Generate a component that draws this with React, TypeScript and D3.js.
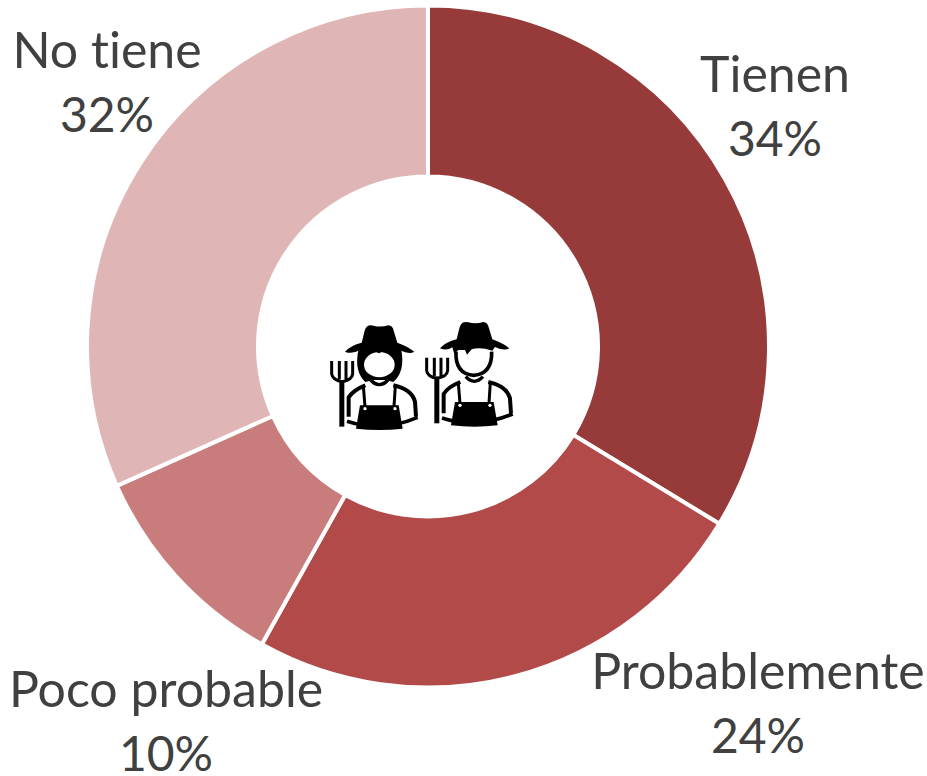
import React from 'react';
import * as d3 from 'd3';

const categories = ['Tienen', 'Probablemente', 'Poco probable', 'No tiene'];
const shares = [33.7, 24.4, 10.2, 31.7];
const colors = ['#963B3A', '#B24A49', '#C97C7C', '#DFB5B6'];
const labelSpots = [
  { x: 775, y: 92 },
  { x: 758, y: 689 },
  { x: 166, y: 707 },
  { x: 107, y: 68 },
];

const width = 927;
const height = 776;
const cx = 428;
const cy = 346.5;
const outerRadius = 341;
const innerRadius = 170;
const lineGap = 64;

type Slice = { name: string; value: number; color: string };

const slices: Slice[] = categories.map((name, i) => ({
  name,
  value: shares[i],
  color: colors[i],
}));

// fork + overalls are the same for both farmers, drawn in the zoomed 3x units
function Body() {
  return (
    <g>
      <path
        d="M65 183V222Q68 240 96 245Q126 240 128 222V183M88 183V238M108 183V238"
        fill="none"
        stroke="#000"
        strokeWidth={9}
      />
      <rect x={88} y={240} width={15} height={140} fill="#000" />
      <path
        d="M116 350V292Q130 270 166 256M250 256Q305 268 315 305L318 350"
        fill="none"
        stroke="#000"
        strokeWidth={12}
      />
      <path d="M182 240Q208 268 234 240" fill="none" stroke="#000" strokeWidth={10} />
      <path d="M160 258L165 320M256 258L252 320" fill="none" stroke="#000" strokeWidth={9} />
      <path d="M150 316H266L278 386Q208 394 138 386Z" fill="#000" />
      <path d="M111 364Q215 398 323 352" fill="none" stroke="#000" strokeWidth={11} />
      <circle cx={165} cy={326} r={5} fill="#fff" />
      <circle cx={255} cy={326} r={5} fill="#fff" />
    </g>
  );
}

function FarmerWoman() {
  return (
    <g>
      <path d="M145 150Q132 215 166 246L190 240L228 240L250 246Q286 215 274 150Z" fill="#000" />
      <ellipse cx={208} cy={194} rx={46} ry={38} fill="#fff" />
      <path
        d="M105 155Q122 136 155 128L164 92Q170 72 190 77Q212 83 235 76Q248 76 252 95L262 128Q295 140 313 155Q298 164 270 151L250 158Q226 142 208 160Q190 150 165 156L150 150Q125 164 105 155Z"
        fill="#000"
      />
      <Body />
    </g>
  );
}

function FarmerMan() {
  return (
    <g transform="translate(285,-10)">
      <path
        d="M153 165Q150 232 206 236Q262 232 260 165"
        fill="none"
        stroke="#000"
        strokeWidth={11}
      />
      <path
        d="M105 155Q122 136 155 128L164 92Q170 72 190 77Q212 83 235 76Q248 76 252 95L262 128Q295 140 313 155Q298 164 270 151L262 162Q225 150 200 158L186 174L180 160L160 160L148 172L142 152Q125 164 105 155Z"
        fill="#000"
      />
      <Body />
    </g>
  );
}

export default function App() {
  const pie = d3
    .pie<Slice>()
    .sort(null)
    .value(d => d.value);
  const arc = d3
    .arc<d3.PieArcDatum<Slice>>()
    .innerRadius(innerRadius)
    .outerRadius(outerRadius);

  return (
    <svg
      width={width}
      height={height}
      viewBox={`0 0 ${width} ${height}`}
      style={{ position: 'absolute', left: 0, top: 0 }}
    >
      <g transform={`translate(${cx}, ${cy})`}>
        {pie(slices).map(d => (
          <path
            key={d.data.name}
            d={arc(d) ?? ''}
            fill={d.data.color}
            stroke="#fff"
            strokeWidth={4}
          />
        ))}
      </g>
      <g transform="translate(310, 300) scale(0.3333)">
        <FarmerWoman />
        <FarmerMan />
      </g>
      <g
        fontFamily="Lato, sans-serif"
        fontSize={50}
        fill="#404040"
        textAnchor="middle"
        style={{ fontVariantLigatures: 'none' }}
      >
        {slices.map((d, i) => (
          <text key={d.name} x={labelSpots[i].x} y={labelSpots[i].y}>
            <tspan x={labelSpots[i].x}>{d.name}</tspan>
            <tspan x={labelSpots[i].x} dy={lineGap} fontSize={48}>
              {d3.format('.0f')(d.value)}%
            </tspan>
          </text>
        ))}
      </g>
    </svg>
  );
}
